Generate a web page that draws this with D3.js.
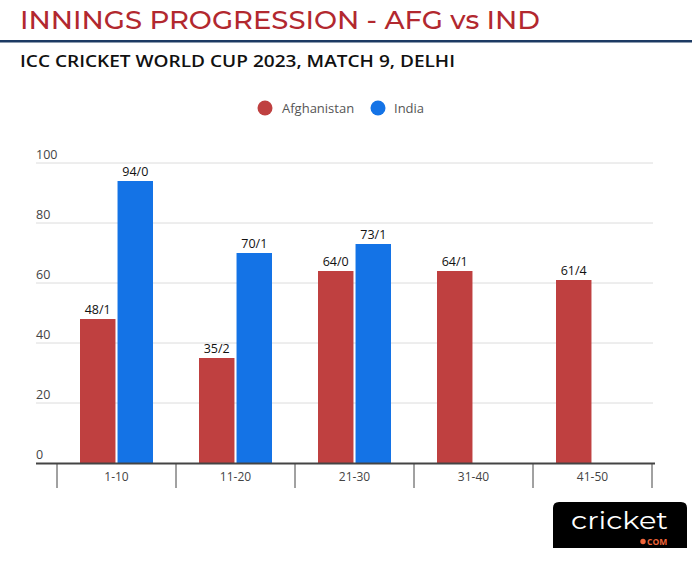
<!DOCTYPE html>
<html><head><meta charset="utf-8">
<script src="https://cdn.jsdelivr.net/npm/d3@7"></script>
<style>body{margin:0;background:#fff;} svg{display:block;}</style>
</head><body>
<svg id="chart" width="692" height="572"></svg>
<script>
const categories = ["1-10", "11-20", "21-30", "31-40", "41-50"];
const seriesNames = ["Afghanistan", "India"];
const afgRuns = [48, 35, 64, 64, 61];
const indRuns = [94, 70, 73, null, null];
const afgLabels = ["48/1", "35/2", "64/0", "64/1", "61/4"];
const indLabels = ["94/0", "70/1", "73/1", null, null];
const yTicks = [0, 20, 40, 60, 80, 100];
const colors = ["#bf4040", "#1473e6"];

const svg = d3.select("#chart");
const font = "'Open Sans', 'Noto Sans', sans-serif";

// Header
svg.append("text").attr("x", 20).attr("y", 29)
  .attr("font-family", "Montserrat, 'Open Sans', sans-serif").attr("font-weight", 500)
  .attr("font-size", 26).attr("fill", "#b2282f")
  .attr("textLength", 520).attr("lengthAdjust", "spacingAndGlyphs")
  .text("INNINGS PROGRESSION - AFG vs IND");
svg.append("rect").attr("x", 0).attr("y", 40).attr("width", 692).attr("height", 2.5).attr("fill", "#1c3a63");
svg.append("text").attr("x", 20).attr("y", 67)
  .attr("font-family", font).attr("font-weight", 600)
  .attr("font-size", 16).attr("fill", "#111")
  .attr("textLength", 435).attr("lengthAdjust", "spacingAndGlyphs")
  .text("ICC CRICKET WORLD CUP 2023, MATCH 9, DELHI");

// Legend
const legend = svg.append("g");
const legendItems = [{name: seriesNames[0], cx: 265, tx: 282}, {name: seriesNames[1], cx: 378, tx: 394}];
legendItems.forEach((d, i) => {
  legend.append("circle").attr("cx", d.cx).attr("cy", 108).attr("r", 7.5).attr("fill", colors[i]);
  legend.append("text").attr("x", d.tx).attr("y", 113).attr("font-family", font)
    .attr("font-size", 13).attr("fill", "#555").text(d.name);
});

// Scales
const x0 = d3.scaleBand().domain(categories).range([57, 652]).paddingInner(0).paddingOuter(0);
const x1 = d3.scaleBand().domain(seriesNames).range([23, 119 - 23]).paddingInner(0.055);
const y = d3.scaleLinear().domain([0, 100]).range([463, 163]);

// Grid
const grid = svg.append("g");
yTicks.forEach(t => {
  if (t > 0) grid.append("line").attr("x1", 36).attr("x2", 653).attr("y1", y(t)).attr("y2", y(t))
    .attr("stroke", "#dcdcdc").attr("stroke-width", 1);
  grid.append("text").attr("x", 36).attr("y", y(t) - 4).attr("font-family", font)
    .attr("font-size", 12.5).attr("fill", "#444").text(t);
});

// Bars
const data = categories.map((c, i) => ({c, vals: [
  {s: seriesNames[0], v: afgRuns[i], l: afgLabels[i]},
  {s: seriesNames[1], v: indRuns[i], l: indLabels[i]}]}));
const groups = svg.append("g").selectAll("g").data(data).join("g")
  .attr("transform", d => `translate(${x0(d.c)},0)`);
groups.selectAll("rect").data(d => d.vals.filter(v => v.v != null)).join("rect")
  .attr("x", d => x1(d.s)).attr("width", x1.bandwidth())
  .attr("y", d => y(d.v)).attr("height", d => y(0) - y(d.v))
  .attr("fill", d => colors[seriesNames.indexOf(d.s)]);
groups.selectAll("text").data(d => d.vals.filter(v => v.v != null)).join("text")
  .attr("x", d => x1(d.s) + x1.bandwidth() / 2).attr("y", d => y(d.v) - 5)
  .attr("text-anchor", "middle").attr("font-family", font).attr("font-size", 12.5)
  .attr("fill", "#111").text(d => d.l);

// Axis
const axis = svg.append("g");
axis.append("line").attr("x1", 36).attr("x2", 655).attr("y1", 463.5).attr("y2", 463.5)
  .attr("stroke", "#444").attr("stroke-width", 2);
const bounds = categories.map(c => x0(c)).concat([x0.range()[1]]);
bounds.forEach(b => axis.append("line").attr("x1", b).attr("x2", b).attr("y1", 463).attr("y2", 488)
  .attr("stroke", "#444").attr("stroke-width", 1));
categories.forEach(c => axis.append("text").attr("x", x0(c) + x0.bandwidth() / 2).attr("y", 481)
  .attr("text-anchor", "middle").attr("font-family", font).attr("font-size", 12).attr("fill", "#444").text(c));

// Logo
const logo = svg.append("g");
logo.append("path").attr("d", "M553,548 V508 Q553,502 559,502 H681 Q687,502 687,508 V548 Z").attr("fill", "#000");
logo.append("text").attr("x", 571).attr("y", 529).attr("font-family", "Montserrat, 'Open Sans', sans-serif")
  .attr("font-size", 25).attr("font-weight", 400).attr("fill", "#fff")
  .attr("textLength", 97).attr("lengthAdjust", "spacingAndGlyphs").text("cricket");
logo.append("circle").attr("cx", 643).attr("cy", 541.5).attr("r", 2.7).attr("fill", "#f0653a");
logo.append("text").attr("x", 647).attr("y", 545).attr("font-family", font).attr("font-weight", 700)
  .attr("font-size", 8.5).attr("fill", "#f0653a").text("COM");
</script>
</body></html>
